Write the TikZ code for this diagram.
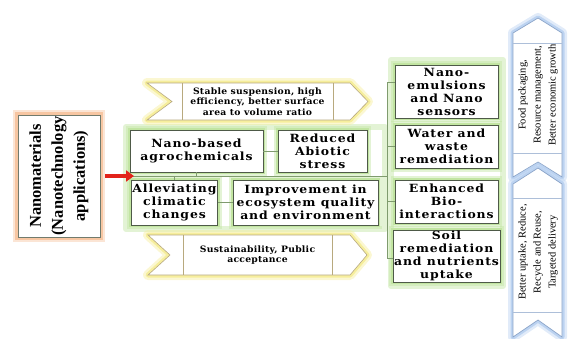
\documentclass[tikz,border=0pt]{standalone}
\usepackage{fontspec}
\setmainfont{Liberation Serif}
\newfontfamily\boxfont{DejaVu Serif}[FakeStretch=1.1,LetterSpace=8]
\newfontfamily\bandfont{DejaVu Serif}[FakeStretch=1.05,LetterSpace=3]
\usetikzlibrary{arrows.meta}

\definecolor{boxline}{HTML}{4E5A48}
\definecolor{glowgreen}{HTML}{C2E5A2}
\definecolor{linkgreen}{HTML}{7F9B6E}
\definecolor{glowyellow}{HTML}{F6EE9C}
\definecolor{bandedge}{HTML}{B8A97E}
\definecolor{glowblue}{HTML}{BCD3F1}
\definecolor{blueedge}{HTML}{8AA4C9}
\definecolor{gloworange}{HTML}{F7C6A2}
\definecolor{arrowred}{HTML}{E2231A}

\tikzset{
  gbox/.style={draw=boxline, line width=0.8pt, fill=white, inner sep=1pt,
    align=center, font=\boxfont\bfseries\fontsize{11.3}{13}\selectfont,
    preaction={draw=glowgreen, line width=8pt, opacity=0.45},
    preaction={draw=glowgreen, line width=4.5pt}},
  grouphalo/.style={draw=glowgreen, line width=6pt, opacity=0.45, line join=round},
  link/.style={draw=linkgreen, line width=0.9pt},
  yband/.style={fill=white, draw=bandedge, line width=0.6pt, line join=miter,
    preaction={draw=glowyellow, line width=10pt, line join=round, opacity=0.45},
    preaction={draw=glowyellow, line width=5pt, line join=round}},
  bband/.style={fill=white, draw=blueedge, line width=0.7pt, line join=miter,
    preaction={draw=glowblue, line width=10pt, line join=round, opacity=0.45},
    preaction={draw=glowblue, line width=5pt, line join=round}},
  bandsep/.style={draw=bandedge, line width=0.5pt},
  bluesep/.style={draw=blueedge!70, line width=0.5pt},
  ytext/.style={align=center, font=\bandfont\bfseries\fontsize{8.8}{10.5}\selectfont},
  btext/.style={rotate=90, align=center, font=\fontsize{10.5}{15}\selectfont},
}

\begin{document}
\begin{tikzpicture}[x=1pt,y=-1pt]
\useasboundingbox (0,0) rectangle (569,338);

% halos behind the two groups of outcome boxes
\draw[grouphalo] (126,127) rectangle (385,229);
\draw[grouphalo] (391,60) rectangle (503,286);

% source box
\node[draw=boxline!80, line width=0.7pt, fill=white, minimum width=82pt, minimum height=122pt,
      preaction={draw=gloworange, line width=10pt, opacity=0.45},
      preaction={draw=gloworange, line width=5.5pt}] (src) at (59,176) {};
\node[rotate=90, align=center, font=\bfseries\fontsize{16.5}{22}\selectfont] (srctext) at (src.center)
  {Nanomaterials\\(Nanotechnology\\applications)};

% upper band
\coordinate (ya1) at (147,83);  \coordinate (ya2) at (350,83);
\coordinate (ya3) at (368,101.5);
\coordinate (ya4) at (350,120); \coordinate (ya5) at (147,120);
\coordinate (ya6) at (172,101.5);
\draw[yband] (ya1) -- (ya2) -- (ya3) -- (ya4) -- (ya5) -- (ya6) -- cycle;
\draw[bandsep] (182,83) -- (182,120);
\draw[bandsep] (333,83) -- (333,120);
\node[ytext] (bandtop) at (257.5,101.5) {Stable suspension, high\\efficiency, better surface\\area to volume ratio};

% lower band
\coordinate (yb1) at (148,235); \coordinate (yb2) at (350,235);
\coordinate (yb3) at (367,255);
\coordinate (yb4) at (350,275); \coordinate (yb5) at (148,275);
\coordinate (yb6) at (170,255);
\draw[yband] (yb1) -- (yb2) -- (yb3) -- (yb4) -- (yb5) -- (yb6) -- cycle;
\draw[bandsep] (183,235) -- (183,275);
\draw[bandsep] (332,235) -- (332,275);
\node[ytext] (bandbot) at (257.5,255) {Sustainability, Public\\acceptance};

% central boxes
\node[gbox, minimum width=133pt, minimum height=42pt] (nb) at (196.5,151) {Nano-based\\agrochemicals};
\node[gbox, minimum width=89pt, minimum height=42pt] (ra) at (322.5,151) {Reduced\\Abiotic\\stress};
\node[gbox, minimum width=85pt, minimum height=45pt] (ac) at (174.5,202.5) {Alleviating\\climatic\\changes};
\node[gbox, minimum width=145pt, minimum height=45pt] (ie) at (305.5,202.5) {Improvement in\\ecosystem quality\\and environment};

% right column boxes
\node[gbox, minimum width=103pt, minimum height=53pt] (ne) at (446.5,91.5) {Nano-\\emulsions\\and Nano\\sensors};
\node[gbox, minimum width=103pt, minimum height=43pt] (ww) at (446.5,146.5) {Water and\\waste\\remediation};
\node[gbox, minimum width=103pt, minimum height=43pt] (eb) at (446.5,201.5) {Enhanced\\Bio-\\interactions};
\node[gbox, minimum width=103pt, minimum height=48pt] (sr) at (446.5,256) {Soil\\remediation\\and nutrients\\uptake};

% connectors
\coordinate (spineL) at (130,176);
\coordinate (bus) at (387,176);
\coordinate (busT) at (387,82);
\coordinate (busB) at (387,258);
\draw[link] (spineL) -- (bus);
\draw[link] (nb.south) -- (nb.south |- spineL);
\draw[link] (ac.north) -- (ac.north |- spineL);
\draw[link] (nb.east) -- (ra.west);
\draw[link] (ac.east) -- (ie.west);
\draw[link] (busT) -- (busB);
\draw[link] (busT) -- (ne.west |- busT);
\draw[link] (ww.west) -- (ww.west -| bus);
\draw[link] (eb.west) -- (eb.west -| bus);
\draw[link] (busB) -- (sr.west |- busB);

% input arrow
\coordinate (arrowtip) at (134,176);
\draw[draw=arrowred, line width=4.5pt, -{Triangle[length=8pt,width=11pt]}]
  ([xshift=5pt]src.east) -- (arrowtip);

% upper blue band
\coordinate (ba1) at (513,33); \coordinate (ba2) at (538,18); \coordinate (ba3) at (562,33);
\coordinate (ba4) at (562,177); \coordinate (ba5) at (538,162); \coordinate (ba6) at (513,177);
\draw[bband] (ba1) -- (ba2) -- (ba3) -- (ba4) -- (ba5) -- (ba6) -- cycle;
\draw[bluesep] (513,43) -- (562,43);
\draw[bluesep] (513,153) -- (562,153);
\node[btext] (bluetop) at (538,95) {Food packaging,\\Resource management,\\Better economic growth};

% lower blue band
\coordinate (bb1) at (513,184); \coordinate (bb2) at (538,168); \coordinate (bb3) at (562,184);
\coordinate (bb4) at (562,337); \coordinate (bb5) at (538,320); \coordinate (bb6) at (513,337);
\draw[bband] (bb1) -- (bb2) -- (bb3) -- (bb4) -- (bb5) -- (bb6) -- cycle;
\draw[bluesep] (513,198) -- (562,198);
\draw[bluesep] (513,312) -- (562,312);
\node[btext] (bluebot) at (538,252) {Better uptake, Reduce,\\Recycle and Reuse,\\Targeted delivery};

\end{tikzpicture}
\end{document}
